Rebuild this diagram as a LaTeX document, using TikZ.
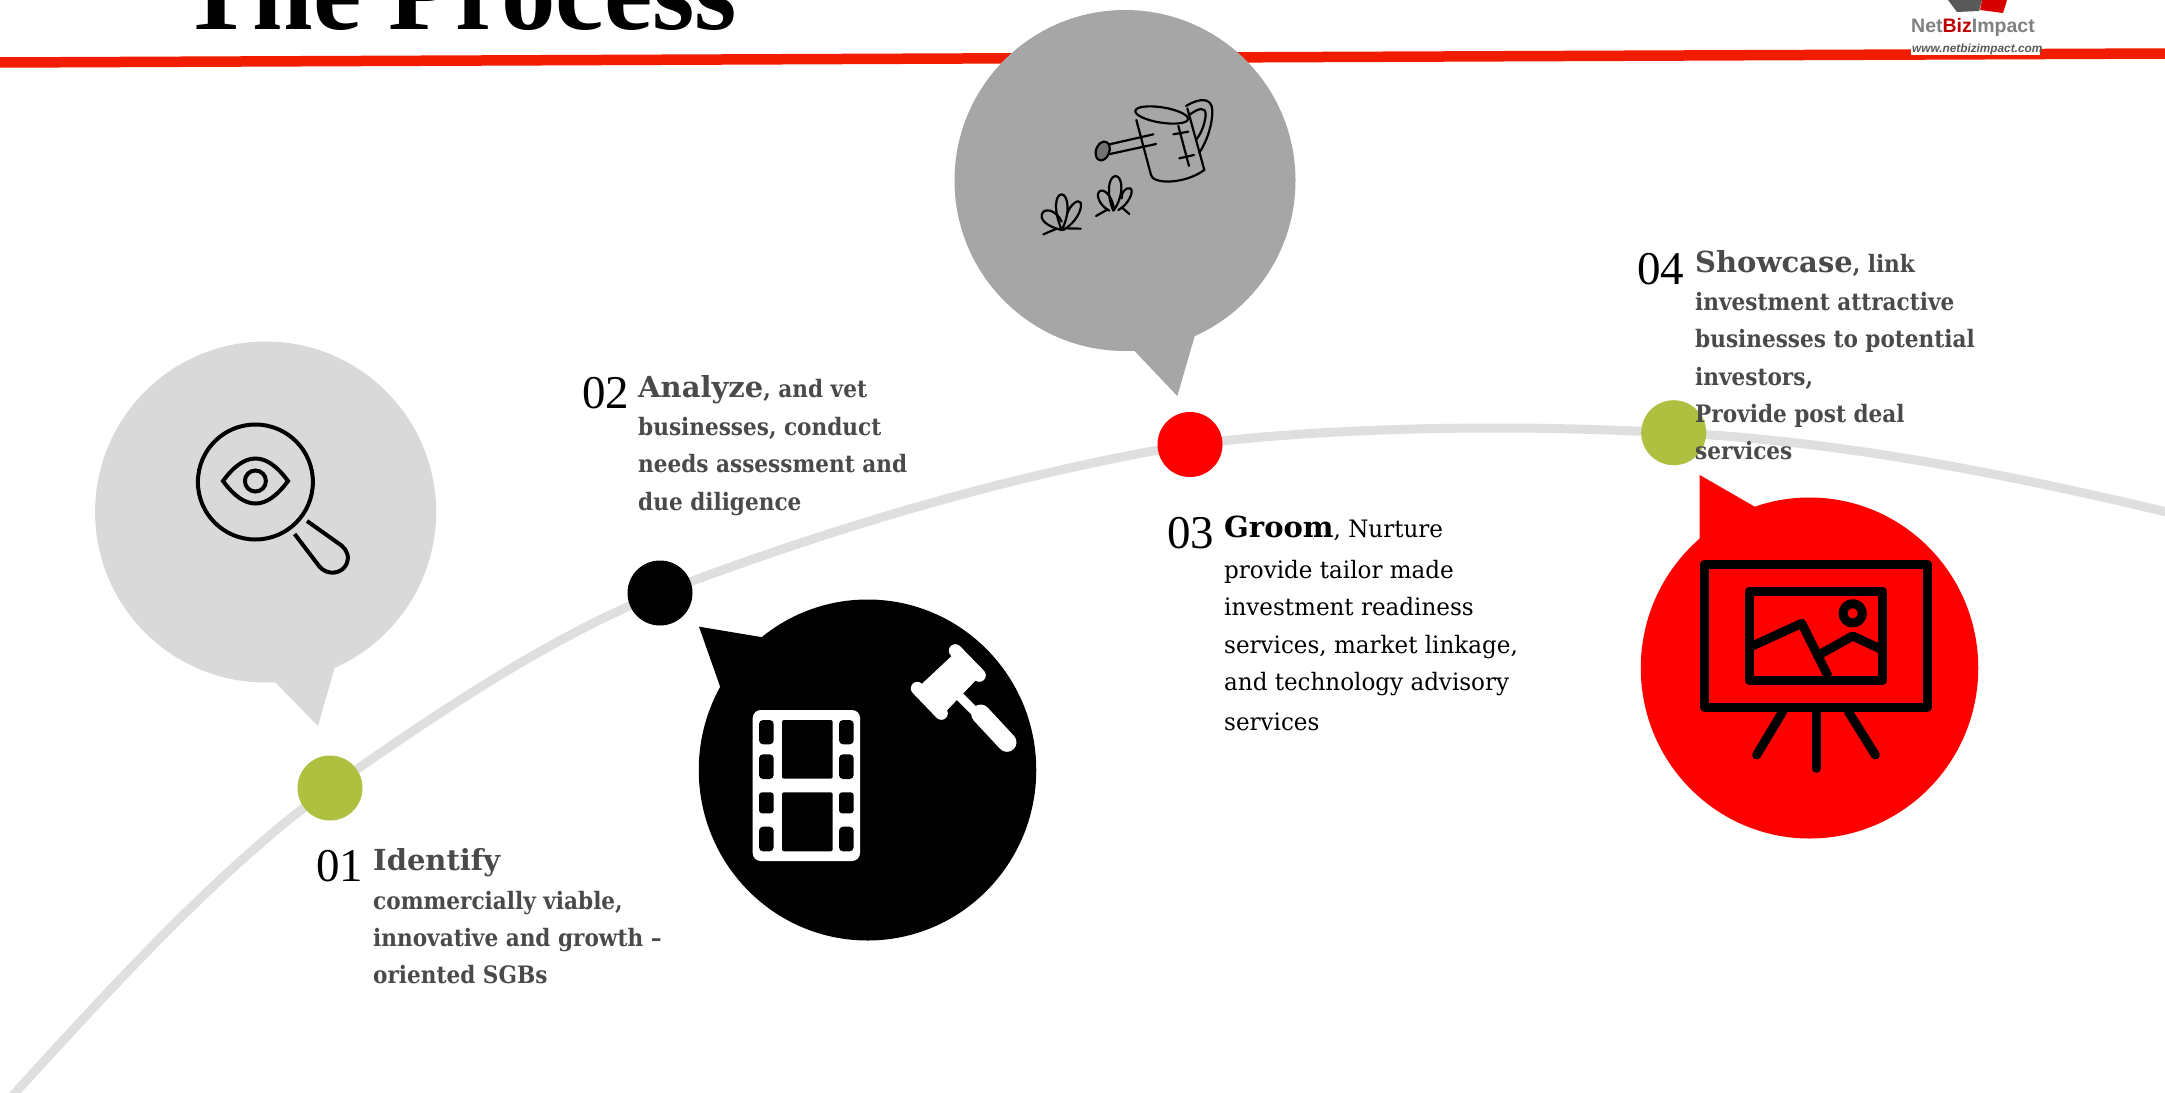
\documentclass[tikz,border=0pt]{standalone}
\usepackage{fontspec}
\usetikzlibrary{shapes.geometric}
\setmainfont{Liberation Serif}
\newfontfamily\slabbold[FakeStretch=0.90]{DejaVu Serif}
\newfontfamily\slabplain[FakeStretch=0.96]{DejaVu Serif}
\newfontfamily\slabhead{DejaVu Serif}
\newfontfamily\logofont{Liberation Sans}
\definecolor{barred}{HTML}{F21D00}
\definecolor{curvegray}{HTML}{DFDFDF}
\definecolor{dotgreen}{HTML}{AFC041}
\definecolor{bubA}{HTML}{D9D9D9}
\definecolor{bubC}{HTML}{A6A6A6}
\definecolor{txtgray}{HTML}{4A4A4A}
\tikzset{
  dot/.style={circle,fill=#1,draw=none,minimum size=65pt,inner sep=0pt},
  bubble/.style={circle,fill=#1,draw=none,minimum size=341pt,inner sep=0pt},
  ovalbubble/.style={ellipse,fill=#1,draw=none,minimum width=337.5pt,minimum height=341pt,inner sep=0pt},
  numlabel/.style={anchor=base west,inner sep=0pt,text=black,font=\fontsize{47}{47}\selectfont},
  boldblock/.style={anchor=north west,inner sep=0pt,align=left,text=txtgray,font=\slabbold\bfseries\fontsize{24}{37.4}\selectfont},
  plainblock/.style={anchor=north west,inner sep=0pt,align=left,text=black,font=\slabplain\fontsize{24}{37.4}\selectfont}
}
\newcommand{\headfont}{\slabhead\bfseries\fontsize{29}{37.4}\selectfont}
\newcommand{\firstline}{\rule{0pt}{30pt}}
\begin{document}
\begin{tikzpicture}[x=1pt,y=-1pt]
\useasboundingbox (0,0) rectangle (2165,1092);
\fill[white] (0,0) rectangle (2165,1092);
% top bar and title
\coordinate (barL) at (0,62.5);
\coordinate (barR) at (2165,53.5);
\draw[barred,line width=10.5pt] (barL) -- (barR);
\node[anchor=base west,inner sep=0pt,text=black,font=\bfseries\fontsize{108.8}{109}\selectfont] (title) at (180,29) {The Process};
% logo
\fill[white] (1911,0) rectangle (2040,55);
\fill[black!65] (1948,0) -- (1957,12) -- (1979,11) -- (1982,0) -- cycle;
\fill[red!85!black] (1982,0) -- (1980,10) -- (2003,13) -- (2007,0) -- cycle;
\node[anchor=base west,inner sep=0pt,text=black!50,font=\logofont\bfseries\fontsize{19.5}{21}\selectfont] (logoname) at (1911,32) {Net{\color{red!75!black}Biz}Impact};
\node[anchor=base west,inner sep=0pt,text=black!65,font=\logofont\bfseries\itshape\fontsize{11.8}{14}\selectfont] (logourl) at (1912,52) {www.netbizimpact.com};
% curve
\coordinate (c0) at (-6,1116);
\coordinate (p1) at (330,788);
\coordinate (p2) at (660,593);
\coordinate (p3) at (1190,444.5);
\coordinate (c3) at (1500,428);
\coordinate (p4) at (1673.7,432.7);
\coordinate (c5) at (2175,514);
\draw[curvegray,line width=9pt] (c0) .. controls (106,993) and (218,869) .. (p1)
  .. controls (440,711) and (550,637) .. (p2)
  .. controls (837,526) and (1013,474) .. (p3)
  .. controls (1293,432) and (1397,428) .. (c3)
  .. controls (1558,428) and (1616,430) .. (p4)
  .. controls (1840,441) and (2008,474) .. (c5);
\node[dot=dotgreen] (d1) at (p1) {};
\node[dot=black] (d2) at (p2) {};
\node[dot=red] (d3) at (p3) {};
\node[dot=dotgreen] (d4) at (p4) {};
% bubbles
\node[bubble=bubA] (b1) at (265.6,512) {};
\fill[bubA] (273,680) -- (318,726) -- (336,663) -- cycle;
\node[ovalbubble=black] (b2) at (867.5,770) {};
\fill[black] (762.7,637.3) -- (699,626.7) -- (720.7,688.3) -- (780,700) -- cycle;
\node[bubble=bubC] (b3) at (1125,180.5) {};
\fill[bubC] (1132.7,349) -- (1177.3,396) -- (1195.7,332.7) -- cycle;
\node[ovalbubble=red] (b4) at (1809.5,668) {};
\fill[red] (1755.7,507.3) -- (1699.7,475) -- (1699.7,541) -- (1760,560) -- cycle;
% magnifier and eye
\begin{scope}[line width=4pt,draw=black]
\draw (255.4,482) circle[radius=57.5];
\draw (223,481) .. controls (245,451) and (266,451) .. (288,481) .. controls (266,511) and (245,511) .. (223,481) -- cycle;
\draw (255.4,481) circle[radius=10.5];
\draw (294.6,534) -- (319,566) .. controls (327,576) and (341,574) .. (346,565) .. controls (350,557) and (347,550) .. (341.5,545.5) -- (307,521);
\end{scope}
% film strip
\begin{scope}
\fill[white,rounded corners=8pt] (752.7,710) rectangle (860,861);
\fill[black,rounded corners=4pt] (759,720) rectangle (773.7,744.3);
\fill[black,rounded corners=4pt] (759,754.3) rectangle (773.7,779);
\fill[black,rounded corners=3pt] (759,792.3) rectangle (773.7,813.3);
\fill[black,rounded corners=4pt] (759,826.7) rectangle (773.7,851.3);
\fill[black,rounded corners=4pt] (839,720) rectangle (853.7,744.3);
\fill[black,rounded corners=4pt] (839,754.3) rectangle (853.7,779);
\fill[black,rounded corners=3pt] (839,792.3) rectangle (853.7,813.3);
\fill[black,rounded corners=4pt] (839,826.7) rectangle (853.7,851.3);
\fill[black,rounded corners=2pt] (782,720) rectangle (832.7,778.7);
\fill[black,rounded corners=2pt] (782,792.3) rectangle (832.7,851.3);
\end{scope}
% gavel
\begin{scope}[shift={(650,500)},x=0.33333pt,y=-0.33333pt]
\fill[white] (907,466) -- (980,538) -- (890,632) -- (812,555) -- cycle;
\draw[white,line width=13pt,line cap=round] (916,452) -- (988,526);
\draw[white,line width=13pt,line cap=round] (802,565) -- (874,640);
\draw[white,line width=9pt] (925,585) -- (995,655);
\draw[white,line width=19pt,line cap=round] (992,642) -- (1071,727);
\end{scope}
% watering can and plants
\begin{scope}[shift={(950,0)},x=0.33333pt,y=-0.33333pt,line width=2.2pt,line cap=round,line join=round]
\draw[rotate around={-9:(635,345)}] (635,345) ellipse[x radius=80,y radius=23];
\draw (559,360) -- (603,525) .. controls (608,552) and (700,555) .. (763,510) -- (712,325);
\draw (708,318) .. controls (745,295) and (785,290) .. (787,330) .. controls (788,375) and (770,425) .. (748,458);
\draw (722,342) .. controls (745,325) and (768,318) .. (767,345) .. controls (765,370) and (755,398) .. (738,420);
\draw (610,403) -- (470,435);
\draw (618,432) -- (480,462);
\draw[fill=black!55,rotate around={-20:(458,453)}] (458,453) ellipse[x radius=20,y radius=29];
\draw (685,378) -- (717,498);
\draw (670,403) -- (715,395);
\draw (688,475) -- (732,465);
\draw (335,690) .. controls (310,630) and (315,585) .. (335,583) .. controls (355,585) and (362,640) .. (335,690);
\draw (335,690) .. controls (300,682) and (272,665) .. (275,645) .. controls (280,620) and (320,630) .. (335,665);
\draw (340,690) .. controls (375,670) and (398,630) .. (392,608) .. controls (385,595) and (360,615) .. (352,640);
\draw (280,703) -- (320,686);
\draw (345,685) -- (392,686);
\draw (490,632) .. controls (468,580) and (475,530) .. (497,528) .. controls (520,530) and (522,590) .. (490,632);
\draw (478,632) .. controls (445,615) and (435,578) .. (452,572) .. controls (470,568) and (490,600) .. (492,630);
\draw (505,630) .. controls (535,615) and (555,570) .. (540,565) .. controls (528,560) and (512,580) .. (515,595);
\draw (438,648) -- (470,630);
\draw (515,622) -- (538,642);
\end{scope}
% easel
\begin{scope}[shift={(1600,450)},x=0.33333pt,y=-0.33333pt,line width=9pt,line join=round,line cap=round]
\draw (314,343) rectangle (982,771);
\draw (448,423) rectangle (848,691);
\draw (758,490) circle[radius=29];
\draw[line cap=butt] (448,592) -- (605,520) -- (685,680);
\draw[line cap=butt] (665,610) -- (758,558) -- (848,600);
\draw (548,785) -- (470,915);
\draw (648,785) -- (648,955);
\draw (745,785) -- (826,915);
\end{scope}
% text
\node[numlabel] (n1) at (316,881) {01};
\node[boldblock] (t1) at (373,840.5) {\firstline{\headfont Identify}\\[1pt]
commercially viable,\\
innovative and growth –\\
oriented SGBs};
\node[numlabel] (n2) at (582,408) {02};
\node[boldblock] (t2) at (638,367.7) {\firstline{\headfont Analyze}, and vet\\
businesses, conduct\\
needs assessment and\\
due diligence};
\node[numlabel] (n3) at (1167,548) {03};
\node[plainblock] (t3) at (1224,507.7) {\firstline{\headfont Groom}, Nurture\\[3pt]
provide tailor made\\
investment readiness\\
services, market linkage,\\
and technology advisory\\[2.5pt]
services};
\node[numlabel] (n4) at (1637,284) {04};
\node[boldblock] (t4) at (1695,242.7) {\firstline{\headfont Showcase}, link\\
investment attractive\\
businesses to potential\\
investors,\\
Provide post deal\\
services};
\end{tikzpicture}
\end{document}
